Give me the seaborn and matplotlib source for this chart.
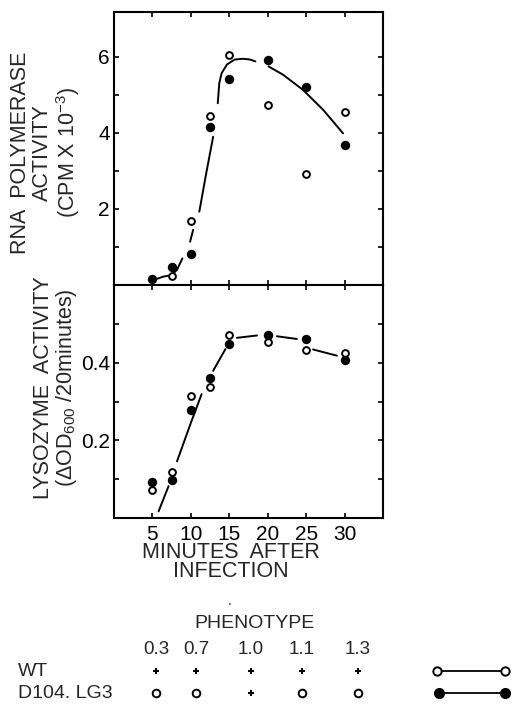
import numpy as np
import pandas as pd
import matplotlib
matplotlib.use('Agg')
import matplotlib.pyplot as plt
import seaborn as sns

# minutes after infection
minutes = [5, 7.5, 10, 12.5, 15, 20, 25, 30]

# RNA polymerase activity (CPM x 10^-3)
rna_d104 = [0.15, 0.48, 0.81, 4.16, 5.42, 5.92, 5.21, 3.68]
rna_wt_minutes = [7.5, 10, 12.5, 15, 20, 25, 30]
rna_wt = [0.24, 1.68, 4.44, 6.05, 4.74, 2.92, 4.55]

# hand drawn curve through the RNA polymerase points
rna_curve_x = [5.0, 6.4, 7.5, 8.2, 8.9, 9.9, 10.3, 11.1, 12.0, 12.9,
               13.5, 13.7, 14.0, 14.7, 15.7, 16.8, 17.7, 18.4,
               20.1, 22.0, 24.6, 27.2, 29.8]
rna_curve_y = [0.12, 0.22, 0.26, 0.40, 0.70, 1.14, 1.45, 1.93, 2.94, 3.90,
               4.78, 5.31, 5.57, 5.80, 5.93, 5.95, 5.93, 5.88,
               5.75, 5.53, 5.13, 4.61, 3.99]
rna_curve_seg = [0, 0, 0, 0, 0, 1, 1, 2, 2, 2,
                 3, 3, 3, 3, 3, 3, 3, 3,
                 4, 4, 4, 4, 4]

# lysozyme activity (dOD600 / 20 minutes)
lys_d104 = [0.093, 0.098, 0.278, 0.360, 0.448, 0.472, 0.461, 0.408]
lys_wt = [0.071, 0.118, 0.315, 0.338, 0.470, 0.452, 0.433, 0.425]

lys_curve_x = [5.8, 7.1, 8.2, 10.0, 11.4, 12.9, 14.5, 16.0, 18.6, 21.2, 23.8, 25.9, 29.0]
lys_curve_y = [0.017, 0.082, 0.146, 0.245, 0.319, 0.379, 0.435, 0.464, 0.470, 0.468, 0.461, 0.434, 0.418]
lys_curve_seg = [0, 0, 1, 1, 1, 2, 2, 3, 3, 4, 4, 5, 5]

# phenotype table under the plot
phenotype_labels = ['0.3', '0.7', '1.0', '1.1', '1.3']
wt_symbols = ['+', '+', '+', '+', '+']
d104_symbols = ['o', 'o', '+', 'o', 'o']

sns.set_style('ticks')
plt.rcParams['font.family'] = ['Liberation Sans', 'DejaVu Sans']
plt.rcParams['mathtext.fontset'] = 'custom'
plt.rcParams['mathtext.rm'] = 'Liberation Sans'

W, H = 514, 707
fig = plt.figure(figsize=(W / 100, H / 100), dpi=100)


def px_axes(left, top, right, bottom):
    return fig.add_axes([left / W, 1 - bottom / H, (right - left) / W, (bottom - top) / H])


ax1 = px_axes(114, 12, 383, 285)
ax2 = px_axes(114, 285, 383, 518)


def draw_panel(ax, cx, cy, seg, wt_x, wt_y, d_x, d_y):
    curve = pd.DataFrame({'x': cx, 'y': cy, 'seg': seg})
    sns.lineplot(data=curve, x='x', y='y', units='seg', estimator=None, sort=False,
                 color='black', linewidth=1.4, ax=ax, zorder=2)
    sns.scatterplot(x=wt_x, y=wt_y, ax=ax, s=24, color='white', edgecolor='black',
                    linewidth=1.4, zorder=3)
    sns.scatterplot(x=d_x, y=d_y, ax=ax, s=46, color='black', edgecolor='black',
                    linewidth=0, zorder=4)
    ax.set_xlim(0, 35)
    ax.set_xticks([5, 10, 15, 20, 25, 30])
    ax.set_xlabel('')
    ax.set_ylabel('')
    ax.tick_params(direction='in', top=True, right=True, length=3.5, width=1.2,
                   labelsize=15, pad=3, colors='black')
    for sp in ax.spines.values():
        sp.set_linewidth(1.5)
        sp.set_color('black')


draw_panel(ax1, rna_curve_x, rna_curve_y, rna_curve_seg, rna_wt_minutes, rna_wt, minutes, rna_d104)
ax1.set_ylim(0, 7.18)
ax1.set_yticks([1, 2, 3, 4, 5, 6], labels=['', '2', '', '4', '', '6'])
ax1.set_xticklabels([])

draw_panel(ax2, lys_curve_x, lys_curve_y, lys_curve_seg, minutes, lys_wt, minutes, lys_d104)
ax2.set_ylim(0, 0.6)
ax2.set_yticks([0.1, 0.2, 0.3, 0.4, 0.5], labels=['', '0.2', '', '0.4', ''])
ax2.tick_params(axis='x', pad=5)

# axis labels
fig.text(46 / W, 1 - 153 / H, 'RNA  POLYMERASE\nACTIVITY\n(CPM X 10$^{-3}$)',
         rotation=90, ha='center', va='center', multialignment='center',
         fontsize=15.5, linespacing=1.05)
fig.text(56 / W, 1 - 388 / H, 'LYSOZYME  ACTIVITY\n($\\Delta$OD$_{600}$ /20minutes)',
         rotation=90, ha='center', va='center', multialignment='center',
         fontsize=15.5, linespacing=1.05)
fig.text(231 / W, 1 - 562 / H, 'MINUTES  AFTER\nINFECTION', ha='center', va='center',
         multialignment='center', fontsize=15.5, linespacing=0.85)

# phenotype table and symbol key, drawn on an overlay in pixel units
ov = fig.add_axes([0, 0, 1, 1])
ov.set_xlim(0, W)
ov.set_ylim(H, 0)
ov.axis('off')

col_x = [156, 196, 251, 302, 358]
ov.text(230, 601, '.', ha='center', va='center', fontsize=10)
ov.text(254, 623, 'PHENOTYPE', ha='center', va='center', fontsize=14)
for xx, lab in zip(col_x, phenotype_labels):
    ov.text(xx, 649, lab, ha='center', va='center', fontsize=13.5)
ov.text(18, 671, 'WT', ha='left', va='center', fontsize=14)
ov.text(18, 693, 'D104. LG3', ha='left', va='center', fontsize=14)
for row_y, symbols in [(671, wt_symbols), (693, d104_symbols)]:
    for xx, sym in zip(col_x, symbols):
        if sym == '+':
            ov.plot(xx, row_y, marker='P', markersize=4.5, color='black', mew=0)
        else:
            ov.plot(xx, row_y, marker='o', markersize=5.5, mfc='white', mec='black', mew=1.4)

ov.plot([437, 505], [671, 671], color='black', linewidth=1.3)
ov.plot([437, 505], [671, 671], linestyle='none', marker='o', markersize=6,
        mfc='white', mec='black', mew=1.4)
ov.plot([439, 505], [693, 693], color='black', linewidth=1.3, marker='o',
        markersize=7, mfc='black', mec='black')

fig.savefig('out.png', dpi=100)
